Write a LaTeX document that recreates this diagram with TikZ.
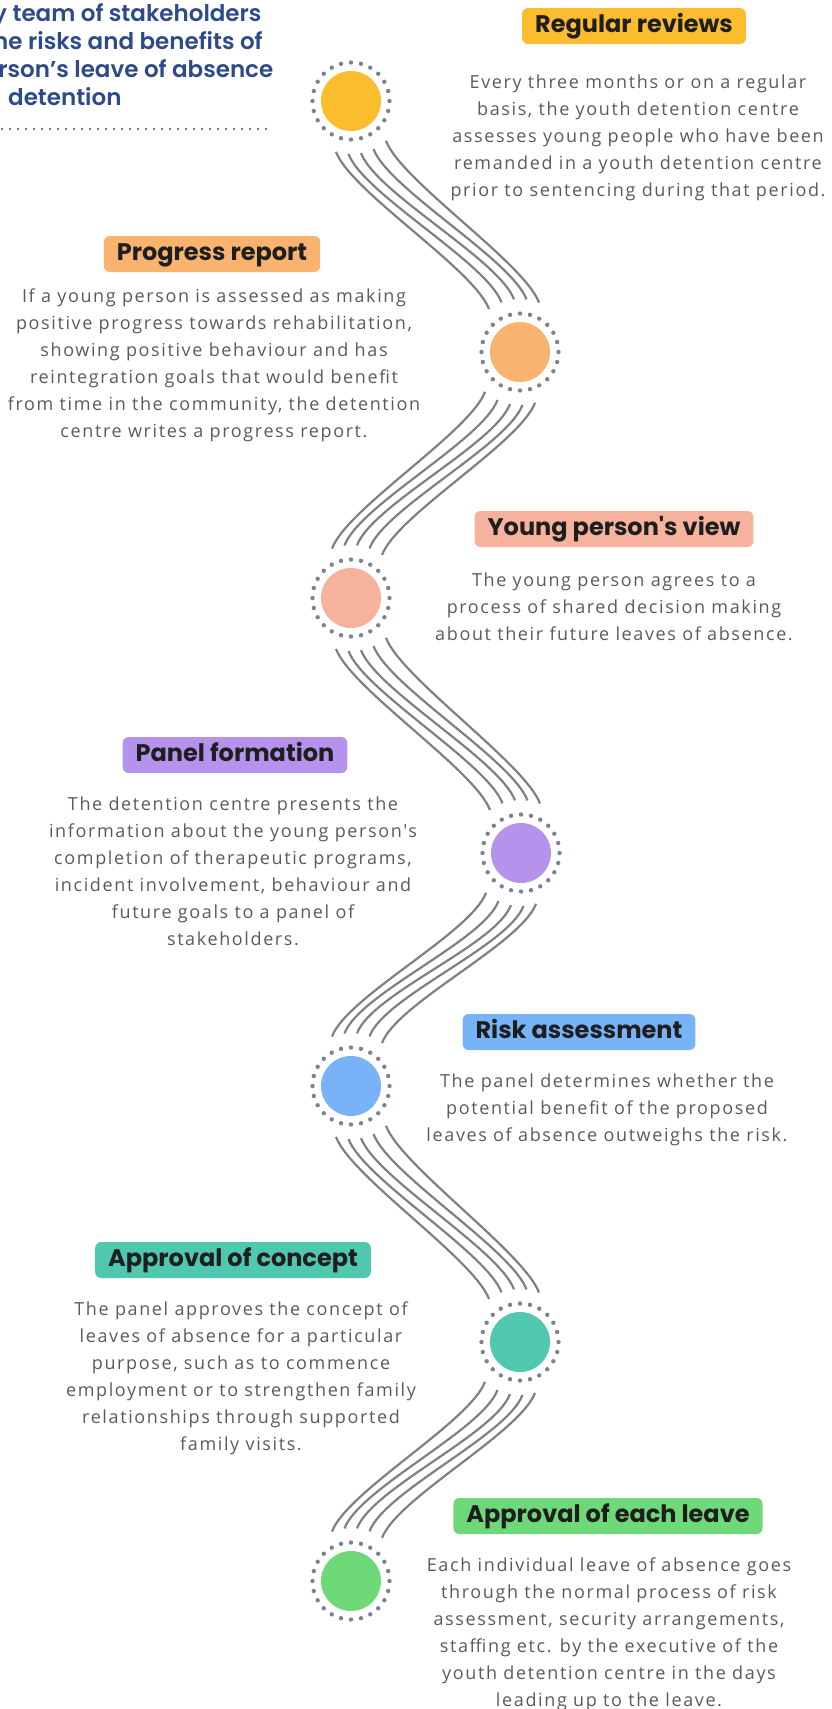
\documentclass[tikz,border=0pt]{standalone}
\usepackage{fontspec}
\usepackage{tikz}
\usetikzlibrary{positioning,calc}
\newfontfamily\headfont{Poppins}
\newfontfamily\introfont{Poppins SemiBold}
\newfontfamily\bodyfont{Open Sans}[LetterSpace=9]

\definecolor{cyellow}{HTML}{FBBC2E}
\definecolor{corange}{HTML}{F8B46F}
\definecolor{csalmon}{HTML}{F7B29E}
\definecolor{cpurple}{HTML}{B593EC}
\definecolor{cblue}{HTML}{77B3F6}
\definecolor{cteal}{HTML}{4FC8AF}
\definecolor{cgreen}{HTML}{6FD979}
\definecolor{ringdot}{HTML}{7D8196}
\definecolor{waveink}{HTML}{808080}
\definecolor{bodyink}{HTML}{5A5A5A}
\definecolor{headink}{HTML}{1E1E1E}
\definecolor{introblue}{HTML}{2C4A8C}

\tikzset{
  tag/.style={rounded corners=6pt, inner xsep=13pt, inner ysep=7pt,
    text height=17pt, text depth=5pt, text=headink,
    font=\headfont\bfseries\fontsize{24}{28}\selectfont},
  blurb/.style={align=center, inner sep=0pt, text=bodyink,
    font=\bodyfont\fontsize{18}{27}\selectfont},
  stop/.style={circle, inner sep=0pt, minimum size=60pt},
  wave/.style={draw=waveink, line width=2.2pt},
  intro/.style={align=left, inner sep=0pt, text=introblue,
    font=\introfont\fontsize{23}{28}\selectfont},
}

\begin{document}
\begin{tikzpicture}[x=1pt, y=-1pt]
  \useasboundingbox (0,0) rectangle (832,1709);

  % cut-off intro at the top left
  \node[intro, anchor=north west] (intro) at (-7,3) {y team of stakeholders\\he risks and benefits of\\\hspace*{-9pt}erson’s leave of absence\\\hspace*{15pt}detention};
  \coordinate (ruleA) at (2,129);
  \coordinate (ruleB) at (272,129);
  \draw[introblue, line width=2.4pt, line cap=round, dash pattern=on 0pt off 8pt] (ruleA) -- (ruleB);

  % stops
  \node[stop, fill=cyellow] (yel) at (351,101) {};
  \node[stop, fill=corange] (ora) at (520,352) {};
  \node[stop, fill=csalmon] (sal) at (351,598) {};
  \node[stop, fill=cpurple] (pur) at (521,853) {};
  \node[stop, fill=cblue] (blu) at (351,1086) {};
  \node[stop, fill=cteal] (tea) at (520,1342) {};
  \node[stop, fill=cgreen] (gre) at (351,1581) {};
  \foreach \n in {yel,ora,sal,pur,blu,tea,gre}
    \foreach \a in {0,15,...,345}
      \fill[ringdot] (\n.center) ++(\a:38.5) circle (2.2pt);

  % waves between stops
  \foreach \a/\b/\s in {yel/ora/1, ora/sal/-1, sal/pur/1, pur/blu/-1, blu/tea/1, tea/gre/-1}
    \foreach \j in {-2,...,2}
      \draw[wave] ($(\a)+({\s*10+12.5*(\j)},{sqrt(2809-(\s*10+12.5*(\j))^2)})$)
        .. controls +({\s*15},40) and +({\s*(-15)},-40) ..
        ($(\b)+({\s*(-6)+12.5*(\j)},{-sqrt(2809-(\s*(-6)+12.5*(\j))^2)})$);

  % tags and texts
  \node[tag, fill=cyellow] (revtag) at (634,26) {Regular reviews};
  \node[blurb, below=30pt of revtag, xshift=4pt] (revtext) {Every three months or on a regular\\basis, the youth detention centre\\assesses young people who have been\\remanded in a youth detention centre\\prior to sentencing during that period.};

  \node[tag, fill=corange] (protag) at (212,254) {Progress report};
  \node[blurb, below=16pt of protag, xshift=2pt] (protext) {If a young person is assessed as making\\positive progress towards rehabilitation,\\showing positive behaviour and has\\reintegration goals that would benefit\\from time in the community, the detention\\centre writes a progress report.};

  \node[tag, fill=csalmon] (viewtag) at (614,529) {Young person's view};
  \node[blurb, below=25pt of viewtag] (viewtext) {The young person agrees to a\\process of shared decision making\\about their future leaves of absence.};

  \node[tag, fill=cpurple] (paneltag) at (235,755) {Panel formation};
  \node[blurb, below=23pt of paneltag, xshift=-2pt] (paneltext) {The detention centre presents the\\information about the young person's\\completion of therapeutic programs,\\incident involvement, behaviour and\\future goals to a panel of\\stakeholders.};

  \node[tag, fill=cblue] (risktag) at (579,1032) {Risk assessment};
  \node[blurb, below=23pt of risktag, xshift=28pt] (risktext) {The panel determines whether the\\potential benefit of the proposed\\leaves of absence outweighs the risk.};

  \node[tag, fill=cteal] (concepttag) at (233,1260) {Approval of concept};
  \node[blurb, below=23pt of concepttag, xshift=8pt] (concepttext) {The panel approves the concept of\\leaves of absence for a particular\\purpose, such as to commence\\employment or to strengthen family\\relationships through supported\\family visits.};

  \node[tag, fill=cgreen] (leavetag) at (608,1516) {Approval of each leave};
  \node[blurb, below=23pt of leavetag, xshift=1pt] (leavetext) {Each individual leave of absence goes\\through the normal process of risk\\assessment, security arrangements,\\staffing etc. by the executive of the\\youth detention centre in the days\\leading up to the leave.};
\end{tikzpicture}
\end{document}
